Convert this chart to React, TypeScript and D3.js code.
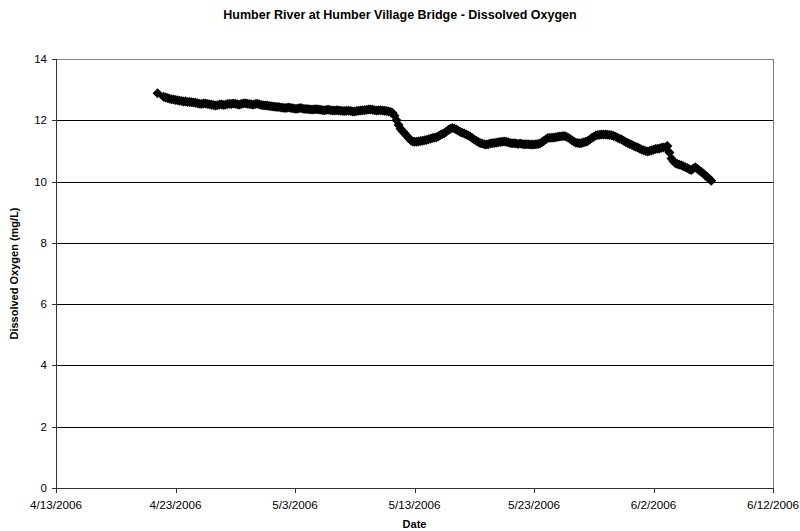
import React from 'react';
import * as d3 from 'd3';

const TITLE = 'Humber River at Humber Village Bridge - Dissolved Oxygen';
const Y_LABEL = 'Dissolved Oxygen (mg/L)';
const X_LABEL = 'Date';

// readings every 4 hours starting at this time (null = no reading)
const START = new Date(2006, 3, 21, 12, 0);
const STEP_HOURS = 4;
const doValues: (number | null)[] = [
  12.88, null, null, 12.77, 12.74, 12.73, 12.7, 12.69, 12.68, 12.66,
  12.65, 12.64, 12.63, 12.61, 12.62, 12.6, 12.6, 12.59, 12.58, 12.57,
  12.56, 12.54, 12.53, 12.55, 12.55, 12.53, 12.52, 12.51, 12.5, 12.48,
  12.49, 12.51, 12.52, 12.5, 12.51, 12.53, 12.54, 12.53, 12.55, 12.54,
  12.52, 12.51, 12.53, 12.55, 12.56, 12.54, 12.53, 12.52, 12.51, 12.53,
  12.54, 12.52, 12.5, 12.49, 12.48, 12.48, 12.47, 12.46, 12.45, 12.44,
  12.43, 12.43, 12.42, 12.41, 12.4, 12.41, 12.42, 12.4, 12.39, 12.38,
  12.38, 12.39, 12.4, 12.38, 12.37, 12.37, 12.36, 12.35, 12.35, 12.36,
  12.36, 12.35, 12.34, 12.33, 12.33, 12.34, 12.34, 12.33, 12.32, 12.32,
  12.33, 12.32, 12.31, 12.3, 12.3, 12.31, 12.31, 12.3, 12.29, 12.29,
  12.3, 12.31, 12.32, 12.33, 12.33, 12.34, 12.35, 12.35, 12.34, 12.33,
  12.32, 12.33, 12.33, 12.32, 12.31, 12.3, 12.29, 12.27, 12.24, 12.15,
  12.0, 11.85, 11.72, 11.64, 11.58, 11.5, 11.42, 11.36, 11.31, 11.3,
  11.3, 11.31, 11.32, 11.33, 11.35, 11.36, 11.38, 11.4, 11.42, 11.43,
  11.45, 11.48, 11.52, 11.55, 11.58, 11.63, 11.68, 11.72, 11.75, 11.73,
  11.7, 11.66, 11.62, 11.59, 11.57, 11.54, 11.5, 11.46, 11.42, 11.37,
  11.33, 11.29, 11.26, 11.24, 11.22, 11.21, 11.22, 11.24, 11.25, 11.26,
  11.27, 11.28, 11.29, 11.3, 11.31, 11.3, 11.28, 11.26, 11.25, 11.25,
  11.24, 11.23, 11.24, 11.23, 11.22, 11.22, 11.22, 11.21, 11.21, 11.21,
  11.22, 11.23, 11.24, 11.28, 11.33, 11.38, 11.42, 11.43, 11.43, 11.44,
  11.45, 11.46, 11.47, 11.48, 11.49, 11.47, 11.44, 11.4, 11.35, 11.31,
  11.27, 11.26, 11.25, 11.26, 11.28, 11.3, 11.32, 11.37, 11.42, 11.46,
  11.5, 11.52, 11.53, 11.54, 11.54, 11.54, 11.53, 11.52, 11.51, 11.49,
  11.46, 11.43, 11.4, 11.37, 11.33, 11.29, 11.26, 11.23, 11.2, 11.17,
  11.14, 11.11, 11.08, 11.05, 11.02, 11.0, 10.98, 11.0, 11.02, 11.04,
  11.06, 11.07, 11.08, 11.1, 11.11, 11.12, 11.16, 10.95, 10.75, 10.66,
  10.6, 10.57, 10.55, 10.53, 10.5, 10.47, 10.44, 10.4, 10.38, 10.43,
  10.47, 10.42, 10.36, 10.31, 10.26, 10.2, 10.15, 10.09, 10.03,
];

const xTickDates = [
  new Date(2006, 3, 13), new Date(2006, 3, 23), new Date(2006, 4, 3),
  new Date(2006, 4, 13), new Date(2006, 4, 23), new Date(2006, 5, 2),
  new Date(2006, 5, 12),
];
const yTicks = [0, 2, 4, 6, 8, 10, 12, 14];

const W = 800;
const H = 531;
const margin = { top: 59, right: 27, bottom: 43, left: 56 };
const FONT = 'Arial, "Liberation Sans", sans-serif';

export default function App() {
  const x = d3.scaleTime()
    .domain([xTickDates[0], xTickDates[xTickDates.length - 1]])
    .range([margin.left, W - margin.right]);
  const y = d3.scaleLinear().domain([0, 14]).range([H - margin.bottom, margin.top]);
  const fmt = d3.timeFormat('%-m/%-d/%Y');

  const points = doValues
    .map((v, i) => ({
      date: new Date(START.getTime() + i * STEP_HOURS * 3600 * 1000),
      v,
    }))
    .filter(p => p.v !== null) as { date: Date; v: number }[];

  const r = 5;
  const diamond = `M0,${-r}L${r},0L0,${r}L${-r},0Z`;
  const x0 = margin.left;
  const x1 = W - margin.right;
  const yBottom = y(0);

  return (
    <svg width={W} height={H} style={{ position: 'absolute', left: 0, top: 0, background: '#fff' }}>
      <text x={W / 2} y={19} textAnchor="middle" fontFamily={FONT} fontWeight="bold" fontSize={12.5}>
        {TITLE}
      </text>

      {/* grid lines */}
      {yTicks.filter(t => t > 0 && t < 14).map(t => (
        <line key={t} x1={x0} x2={x1} y1={Math.round(y(t)) + 0.5} y2={Math.round(y(t)) + 0.5} stroke="#000" />
      ))}
      {/* plot border top/right */}
      <line x1={x0} x2={x1} y1={Math.round(y(14)) + 0.5} y2={Math.round(y(14)) + 0.5} stroke="#808080" />
      <line x1={Math.round(x1) + 0.5} x2={Math.round(x1) + 0.5} y1={y(14)} y2={yBottom} stroke="#808080" />

      {/* y axis */}
      <line x1={x0 + 0.5} x2={x0 + 0.5} y1={y(14)} y2={yBottom} stroke="#333" />
      {yTicks.map(t => (
        <g key={t}>
          <line x1={x0 - 4} x2={x0} y1={Math.round(y(t)) + 0.5} y2={Math.round(y(t)) + 0.5} stroke="#333" />
          <text x={x0 - 9} y={y(t) + 4} textAnchor="end" fontFamily={FONT} fontSize={11.5}>{t}</text>
        </g>
      ))}

      {/* x axis */}
      <line x1={x0} x2={x1} y1={Math.round(yBottom) + 0.5} y2={Math.round(yBottom) + 0.5} stroke="#333" />
      {xTickDates.map(d => (
        <g key={d.getTime()}>
          <line x1={Math.round(x(d)) + 0.5} x2={Math.round(x(d)) + 0.5} y1={yBottom} y2={yBottom + 5} stroke="#333" />
          <text x={x(d)} y={yBottom + 21} textAnchor="middle" fontFamily={FONT} fontSize={11.7}>{fmt(d)}</text>
        </g>
      ))}

      {/* data */}
      {points.map((p, i) => (
        <path key={i} d={diamond} transform={`translate(${x(p.date)},${y(p.v)})`} fill="#000" />
      ))}

      <text x={x0 + (x1 - x0) / 2} y={528} textAnchor="middle" fontFamily={FONT} fontWeight="bold" fontSize={11}>
        {X_LABEL}
      </text>
      <text transform={`translate(18,${(y(14) + yBottom) / 2}) rotate(-90)`} textAnchor="middle"
        fontFamily={FONT} fontWeight="bold" fontSize={11}>
        {Y_LABEL}
      </text>
    </svg>
  );
}
